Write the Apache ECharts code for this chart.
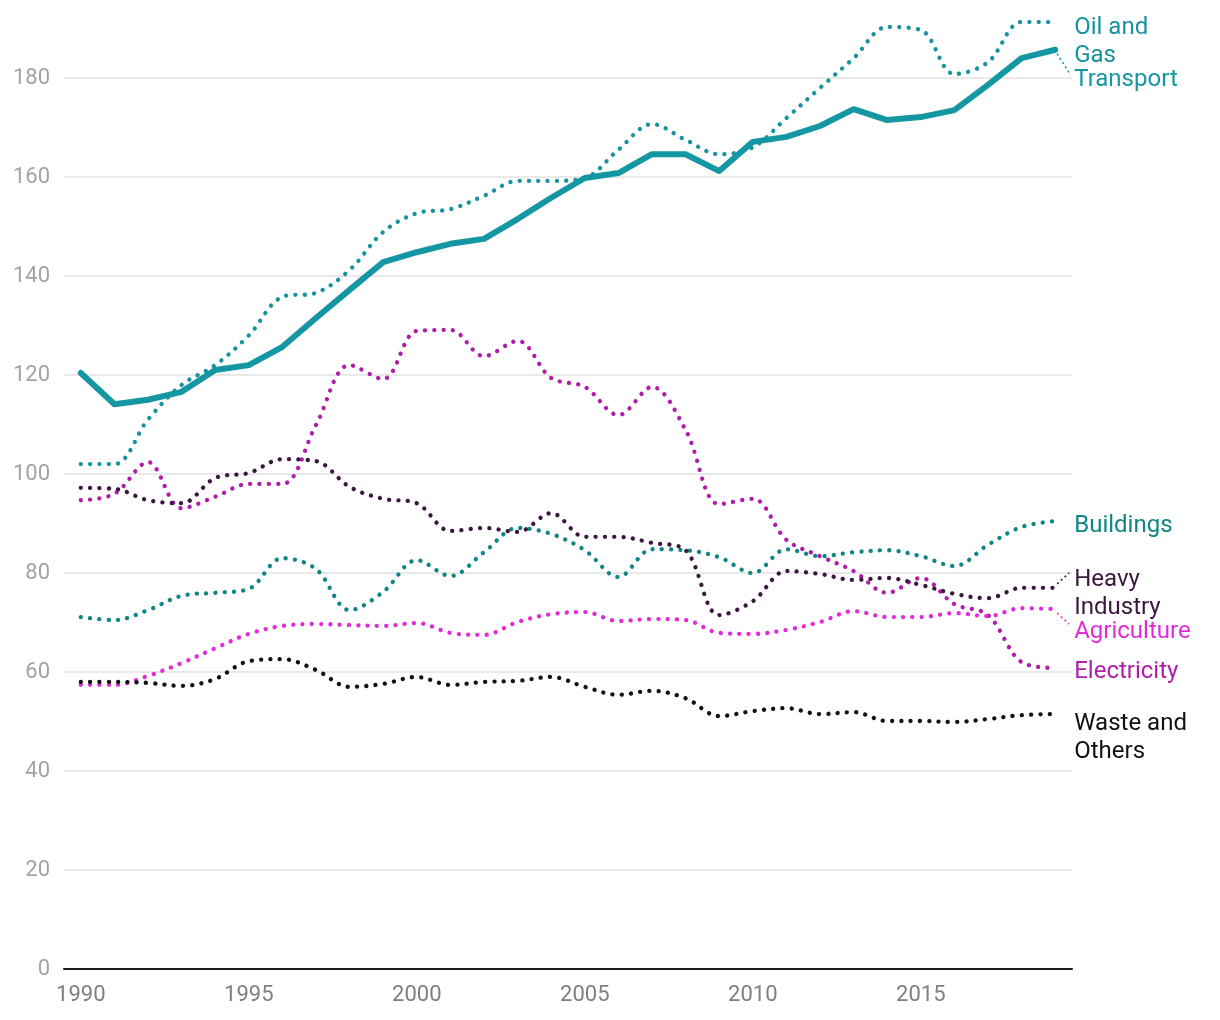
<!DOCTYPE html>
<html><head><meta charset="utf-8">
<script src="https://cdn.jsdelivr.net/npm/echarts@6/dist/echarts.min.js"></script>
<style>html,body{margin:0;padding:0;background:#fff}#c{width:1220px;height:1020px}</style>
</head><body><div id="c"></div>
<script>
const years = ['1990','1991','1992','1993','1994','1995','1996','1997','1998','1999','2000','2001','2002','2003','2004','2005','2006','2007','2008','2009','2010','2011','2012','2013','2014','2015','2016','2017','2018','2019'];
const yTicks = [0,20,40,60,80,100,120,140,160,180];
const transport   = [120.4,114.1,115.0,116.6,121.0,122.0,125.7,131.5,137.2,142.8,144.8,146.5,147.5,151.5,155.8,159.8,160.8,164.6,164.6,161.2,167.1,168.1,170.3,173.7,171.5,172.1,173.5,178.6,184.0,185.7];
const oilGas      = [102.0,102.0,111.0,118.0,122.0,128.0,135.8,136.6,141.2,148.9,152.7,153.5,156.2,159.2,159.2,159.8,165.5,170.7,167.5,164.6,166.0,171.9,178.0,184.0,190.3,189.7,180.8,183.2,191.3,191.3];
const buildings   = [71.1,70.5,72.5,75.4,76.0,76.8,83.0,80.8,72.5,76.2,82.6,79.4,84.2,89.1,87.9,84.6,79.2,84.8,84.6,83.2,80.0,84.8,83.4,84.2,84.6,83.4,81.4,85.7,89.3,90.5];
const electricity = [94.7,96.0,102.4,93.1,95.4,98.0,98.0,109.9,122.0,119.2,128.9,129.1,123.8,126.9,119.4,117.6,111.9,117.6,108.9,93.9,95.0,86.7,83.4,80.4,76.0,79.0,73.7,71.5,62.0,60.8];
const heavy       = [97.2,97.0,94.7,94.1,99.2,100.2,103.0,102.6,97.4,95.0,94.1,88.5,89.1,88.3,92.1,87.3,87.3,86.1,84.6,71.5,74.3,80.4,79.8,78.6,79.0,77.6,75.8,74.9,77.0,77.0];
const agriculture = [57.4,57.4,59.2,61.8,64.8,67.7,69.3,69.7,69.5,69.3,69.9,67.9,67.5,70.1,71.7,72.1,70.3,70.7,70.5,67.9,67.7,68.5,70.1,72.3,71.1,71.1,71.9,71.3,72.9,72.7];
const waste       = [58.0,58.0,57.8,57.2,58.6,62.2,62.6,60.4,57.0,57.6,59.0,57.4,58.0,58.2,59.0,57.0,55.4,56.2,54.7,51.1,52.1,52.7,51.5,51.9,50.1,50.1,49.9,50.5,51.3,51.5];

const FONT = 'Roboto, "Noto Sans", sans-serif';
// style config: [series name, label text, data, colour, solid?, label dy, leader dy (null = none)]
const defs = [
  ['Transport', 'Transport', transport, '#1597a3', true, 30, 23],
  ['Oil and Gas', 'Oil and\nGas', oilGas, '#16939c', false, 20, null],
  ['Buildings', 'Buildings', buildings, '#0f8586', false, 5, null],
  ['Electricity', 'Electricity', electricity, '#b01ea8', false, 4, null],
  ['Heavy Industry', 'Heavy\nIndustry', heavy, '#3b1740', false, 6, -15],
  ['Agriculture', 'Agriculture', agriculture, '#e22ad8', false, 23, 15],
  ['Waste and Others', 'Waste and\nOthers', waste, '#111111', false, 24, null]
];
function mk(d) {
  const [name, label, data, color, solid, dy] = d;
  return {
    name: name, type: 'line', data: data, symbol: 'none', clip: false,
    smooth: solid ? false : 0.35,
    lineStyle: solid ? {color: color, width: 6, cap: 'round', join: 'round'}
                     : {color: color, width: 4.3, type: [0.1, 9.2], cap: 'round'},
    itemStyle: {color: color},
    endLabel: {show: true, formatter: label, color: color, fontSize: 24, lineHeight: 28,
               fontFamily: FONT, distance: 19, offset: [0, dy]},
    emphasis: {disabled: true},
    z: solid ? 3 : 2
  };
}
const chart = echarts.init(document.getElementById('c'), null, {renderer: 'canvas'});
chart.setOption({
  animation: false,
  backgroundColor: '#ffffff',
  grid: {left: 64, right: 148, top: 78, bottom: 51},
  xAxis: {
    type: 'category', data: years, boundaryGap: true,
    axisLine: {show: true, lineStyle: {color: '#1a1a1a', width: 2}},
    axisTick: {show: false},
    axisLabel: {interval: 4, color: '#7f7f7f', fontSize: 22, fontFamily: FONT, margin: 15}
  },
  yAxis: {
    type: 'value', min: yTicks[0], max: yTicks[yTicks.length-1], interval: 20,
    axisLine: {show: false}, axisTick: {show: false},
    axisLabel: {color: '#a3a3a3', fontSize: 22, fontFamily: FONT, margin: 14},
    splitLine: {lineStyle: {color: '#e2e2e2', width: 1.5}}
  },
  series: defs.map(mk)
});
// leader lines from each line's last point toward its shifted label
const graphics = [];
defs.forEach((d, i) => {
  const leadDy = d[6];
  if (leadDy === null) return;
  const data = d[2];
  const last = data.length - 1;
  const p = chart.convertToPixel({seriesIndex: i}, [last, data[last]]);
  const s = Math.sign(leadDy);
  graphics.push({
    type: 'line', silent: true, z: 10,
    shape: {x1: p[0] + 2, y1: p[1] + 4 * s, x2: p[0] + 14, y2: p[1] + leadDy},
    style: {stroke: d[3], lineWidth: 1.6, lineDash: [2, 3]}
  });
});
chart.setOption({graphic: graphics});
</script>
</body></html>
